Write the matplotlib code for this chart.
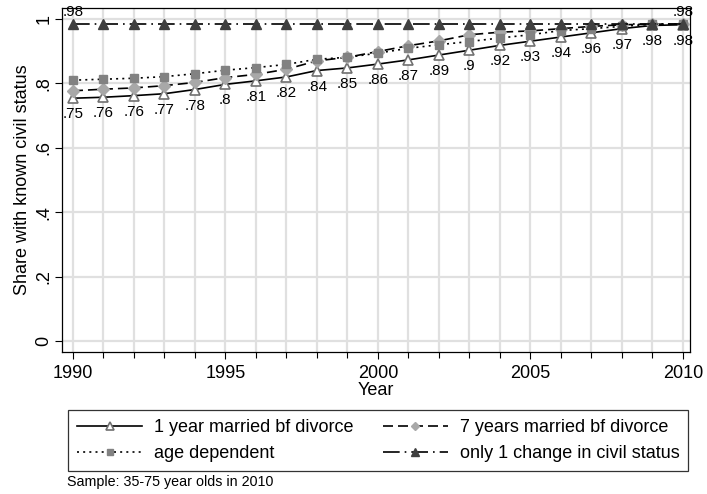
import numpy as np
import matplotlib
matplotlib.use("Agg")
import matplotlib.pyplot as plt
from matplotlib.ticker import MultipleLocator

plt.rcParams['font.family'] = ['Liberation Sans', 'DejaVu Sans']

years = np.arange(1990, 2011)
one_year = [0.754, 0.757, 0.762, 0.768, 0.781, 0.797, 0.808, 0.820, 0.840, 0.848, 0.860,
            0.873, 0.888, 0.903, 0.918, 0.931, 0.944, 0.957, 0.970, 0.980, 0.982]
seven_years = [0.777, 0.782, 0.786, 0.793, 0.803, 0.818, 0.828, 0.844, 0.870, 0.881, 0.899,
               0.917, 0.932, 0.951, 0.959, 0.963, 0.970, 0.977, 0.982, 0.984, 0.984]
age_dep = [0.810, 0.813, 0.816, 0.821, 0.830, 0.841, 0.849, 0.859, 0.875, 0.881, 0.894,
           0.909, 0.920, 0.930, 0.941, 0.951, 0.964, 0.970, 0.977, 0.984, 0.984]
one_change = [0.984] * 21

names = ["1 year married bf divorce", "7 years married bf divorce",
         "age dependent", "only 1 change in civil status"]


def stata_fmt(v):
    s = "%.2f" % v
    s = s.rstrip("0").rstrip(".")
    if s.startswith("0"):
        s = s[1:]
    return s


fig = plt.figure(figsize=(7.07, 4.94), dpi=100)
ax = fig.add_axes([0.0877, 0.2874, 0.888, 0.697])

ax.plot(years, one_year, color='black', lw=1.2, ls='-', marker='^', ms=7,
        mfc='white', mec='#707070', mew=1.2, label=names[0], zorder=3)
ax.plot(years, seven_years, color='black', lw=1.2, ls=(0, (6, 3)), marker='D', ms=6,
        mfc='#a8a8a8', mec='#a8a8a8', label=names[1], zorder=4)
ax.plot(years, age_dep, color='black', lw=1.2, ls=(0, (1.2, 2.5)), marker='s', ms=6,
        mfc='#828282', mec='#828282', label=names[2], zorder=5)
ax.plot(years, one_change, color='black', lw=1.2, ls=(0, (10, 3, 1, 3)), marker='^', ms=7.5,
        mfc='#404040', mec='#404040', label=names[3], zorder=6)

for x, v in zip(years, one_year):
    ax.annotate(stata_fmt(v), (x, v), xytext=(0, -6.5), textcoords='offset points',
                ha='center', va='top', fontsize=11)
for i in [0, len(years) - 1]:
    ax.annotate(stata_fmt(one_change[i]), (years[i], one_change[i]), xytext=(0, 4),
                textcoords='offset points', ha='center', va='bottom', fontsize=11)

ax.set_xlim(1989.64, 2010.23)
ax.set_ylim(-0.034, 1.035)
ax.set_xticks([1990, 1995, 2000, 2005, 2010])
ax.xaxis.set_minor_locator(MultipleLocator(1))
ax.set_yticks([0, 0.2, 0.4, 0.6, 0.8, 1.0])
ax.set_yticklabels(["0", ".2", ".4", ".6", ".8", "1"], rotation=90, va='center')
ax.tick_params(axis='both', which='major', labelsize=13, length=5, width=0.8)
ax.tick_params(axis='x', which='major', pad=4)
ax.tick_params(axis='y', which='major', pad=2)
ax.tick_params(axis='x', which='minor', length=4, width=0.8)

ax.grid(True, which='both', axis='x', color='#e0e0e0', lw=1.6)
ax.grid(True, which='major', axis='y', color='#e0e0e0', lw=1.6)
ax.set_axisbelow(True)
for sp in ax.spines.values():
    sp.set_linewidth(0.9)

ax.set_xlabel("Year", fontsize=13, labelpad=0)
ax.set_ylabel("Share with known civil status", fontsize=13, labelpad=3)

handles, labels = ax.get_legend_handles_labels()
order = [0, 2, 1, 3]
leg = fig.legend([handles[i] for i in order], [labels[i] for i in order],
                 loc='upper left', bbox_to_anchor=(68 / 707, 1 - 410 / 494),
                 ncol=2, fontsize=13, handlelength=3.6, markerscale=0.75,
                 frameon=True, fancybox=False, edgecolor='black',
                 borderaxespad=0, columnspacing=1.6, handletextpad=0.67,
                 labelspacing=0.5, borderpad=0.5)
leg.get_frame().set_linewidth(0.9)

fig.text(0.095, 0.024, "Sample: 35-75 year olds in 2010", fontsize=10.3, ha='left', va='center')

fig.savefig("out.png", dpi=100)
